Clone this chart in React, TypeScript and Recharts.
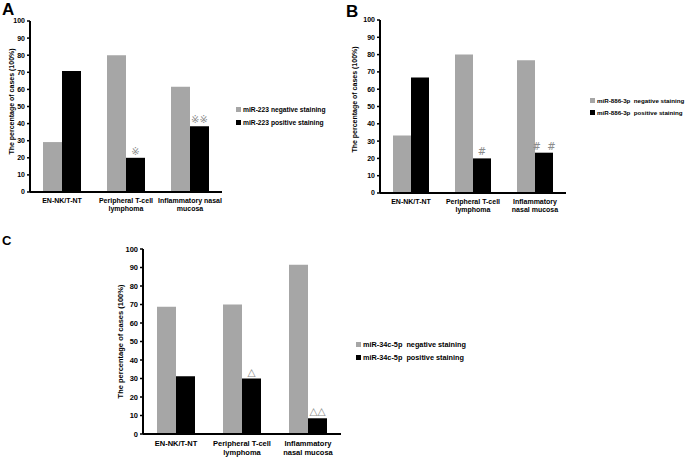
import React from 'react';
import { BarChart, Bar, XAxis, YAxis, Legend, LabelList } from 'recharts';

// shared categories and axis
const groups = ['EN-NK/T-NT', 'Peripheral T-cell lymphoma', 'Inflammatory nasal mucosa'];
const yTicks = [0, 10, 20, 30, 40, 50, 60, 70, 80, 90, 100];
const yTitle = 'The percentage  of  cases  (100%)';

// panel A - miR-223
const negativeA = [29.2, 80, 61.5];
const positiveA = [70.8, 20, 38.5];
const marksA = ['', '※', '※※'];
const tickLinesA = [['EN-NK/T-NT'], ['Peripheral T-cell', 'lymphoma'], ['Inflammatory nasal', 'mucosa']];
const seriesA = ['miR-223 negative staining', 'miR-223 positive staining'];

// panel B - miR-886-3p
const negativeB = [33.3, 80, 76.7];
const positiveB = [66.7, 20, 23.3];
const marksB = ['', '#', '#  #'];
const tickLinesB = [['EN-NK/T-NT'], ['Peripheral T-cell', 'lymphoma'], ['Inflammatory', 'nasal mucosa']];
const seriesB = ['miR-886-3p  negative staining', 'miR-886-3p  positive staining'];

// panel C - miR-34c-5p
const negativeC = [68.8, 70, 91.5];
const positiveC = [31.2, 30, 8.5];
const marksC = ['', '△', '△△'];
const tickLinesC = [['EN-NK/T-NT'], ['Peripheral T-cell', 'lymphoma'], ['Inflammatory', 'nasal mucosa']];
const seriesC = ['miR-34c-5p  negative staining', 'miR-34c-5p  positive staining'];

const GRAY = '#a6a6a6';
const FONT = "'Liberation Sans', Arial, sans-serif";

const buildRows = (neg: number[], pos: number[], marks: string[]) =>
  groups.map((g, i) => ({ group: g, negative: neg[i], positive: pos[i], mark: marks[i] }));

const CatTick = (props: any) => {
  const { x, y, payload, lines, size } = props;
  const idx = payload?.index ?? props.index ?? 0;
  const rows: string[] = lines[idx] || [String(payload.value)];
  return (
    <text x={x} y={y} textAnchor="middle" fontSize={size} fontWeight="bold" fill="#000" fontFamily={FONT}>
      {rows.map((r, i) => (
        <tspan key={i} x={x} dy={i === 0 ? size : size * 1.2}>
          {r}
        </tspan>
      ))}
    </text>
  );
};

const MarkLabel = (props: any) => {
  const { x, y, width, value, size } = props;
  if (!value) return null;
  return (
    <text
      x={Number(x) + Number(width) / 2}
      y={Number(y) - 3}
      textAnchor="middle"
      fontSize={size}
      fill="#8c8c8c"
      fontFamily="'DejaVu Sans', sans-serif"
      style={{ whiteSpace: 'pre' }}
    >
      {value}
    </text>
  );
};

const LegendBox = (props: any) => {
  const { payload, size, rowH } = props;
  return (
    <div style={{ fontFamily: FONT, fontWeight: 'bold', fontSize: size, color: '#000' }}>
      {(payload || []).map((p: any, i: number) => (
        <div key={i} style={{ display: 'flex', alignItems: 'center', height: rowH, whiteSpace: 'pre' }}>
          <span style={{ display: 'inline-block', width: 5, height: 5, background: p.color, marginRight: 2 }} />
          {p.value}
        </div>
      ))}
    </div>
  );
};

interface PanelProps {
  neg: number[];
  pos: number[];
  marks: string[];
  lines: string[][];
  series: string[];
  width: number;
  height: number;
  margin: { top: number; right: number; left: number; bottom: number };
  yWidth: number;
  xHeight: number;
  barSize: number;
  font: number;
  legendFont: number;
  legendPos: { left: number; top: number };
  rowH: number;
  titleDx: number;
  titleDy: number;
}

const Panel = (p: PanelProps) => {
  const rows = buildRows(p.neg, p.pos, p.marks);
  return (
    <BarChart width={p.width} height={p.height} data={rows} margin={p.margin} barGap={0} barSize={p.barSize}>
      <XAxis
        dataKey="group"
        axisLine={{ stroke: '#000', strokeWidth: 2 }}
        tickLine={false}
        tickSize={0}
        tickMargin={4}
        height={p.xHeight}
        interval={0}
        tick={(t: any) => <CatTick {...t} lines={p.lines} size={p.font} />}
      />
      <YAxis
        domain={[0, 100]}
        ticks={yTicks}
        interval={0}
        width={p.yWidth}
        axisLine={{ stroke: '#000', strokeWidth: 2 }}
        tickLine={{ stroke: '#000', strokeWidth: 1.5 }}
        tickSize={3}
        tickMargin={2}
        tick={{ fontSize: p.font, fontWeight: 'bold', fill: '#000', fontFamily: FONT }}
        label={{
          value: yTitle,
          angle: -90,
          position: 'center',
          dx: p.titleDx,
          dy: p.titleDy,
          style: { fontSize: p.font, fontWeight: 'bold', fill: '#000', fontFamily: FONT, whiteSpace: 'pre' },
        }}
      />
      <Legend
        layout="vertical"
        align="center"
        verticalAlign="middle"
        wrapperStyle={{ left: p.legendPos.left, top: p.legendPos.top, width: 'auto' }}
        content={(lp: any) => <LegendBox {...lp} size={p.legendFont} rowH={p.rowH} />}
      />
      <Bar dataKey="negative" name={p.series[0]} fill={GRAY} isAnimationActive={false} />
      <Bar dataKey="positive" name={p.series[1]} fill="#000" isAnimationActive={false}>
        <LabelList dataKey="mark" content={(lp: any) => <MarkLabel {...lp} size={p.font + 3} />} />
      </Bar>
    </BarChart>
  );
};

const letterStyle: React.CSSProperties = {
  position: 'absolute',
  fontFamily: FONT,
  fontWeight: 'bold',
  color: '#000',
  lineHeight: 1,
};

export default function App() {
  return (
    <div style={{ position: 'absolute', left: 0, top: 0, width: 685, height: 462, background: '#fff', overflow: 'hidden' }}>
      <div style={{ ...letterStyle, left: 2, top: 1, fontSize: 17 }}>A</div>
      <div style={{ ...letterStyle, left: 346, top: 3, fontSize: 17 }}>B</div>
      <div style={{ ...letterStyle, left: 2, top: 234, fontSize: 13 }}>C</div>

      <div style={{ position: 'absolute', left: 0, top: 0 }}>
        <Panel
          neg={negativeA}
          pos={positiveA}
          marks={marksA}
          lines={tickLinesA}
          series={seriesA}
          width={340}
          height={215}
          margin={{ top: 21, right: 118, left: 0, bottom: 0 }}
          yWidth={30}
          xHeight={23}
          barSize={19}
          font={7}
          legendFont={6.7}
          legendPos={{ left: 236, top: 103 }}
          rowH={13}
          titleDx={-3}
          titleDy={-5}
        />
      </div>

      <div style={{ position: 'absolute', left: 340, top: 0 }}>
        <Panel
          neg={negativeB}
          pos={positiveB}
          marks={marksB}
          lines={tickLinesB}
          series={seriesB}
          width={345}
          height={215}
          margin={{ top: 20, right: 119, left: 0, bottom: 0 }}
          yWidth={40}
          xHeight={22}
          barSize={18}
          font={7}
          legendFont={6.2}
          legendPos={{ left: 250, top: 94 }}
          rowH={12}
          titleDx={-5}
          titleDy={-7}
        />
      </div>

      <div style={{ position: 'absolute', left: 100, top: 225 }}>
        <Panel
          neg={negativeC}
          pos={positiveC}
          marks={marksC}
          lines={tickLinesC}
          series={seriesC}
          width={400}
          height={237}
          margin={{ top: 24, right: 159, left: 0, bottom: 0 }}
          yWidth={43}
          xHeight={28}
          barSize={19}
          font={7.5}
          legendFont={7.3}
          legendPos={{ left: 256, top: 113 }}
          rowH={13}
          titleDx={-1}
          titleDy={0}
        />
      </div>
    </div>
  );
}
